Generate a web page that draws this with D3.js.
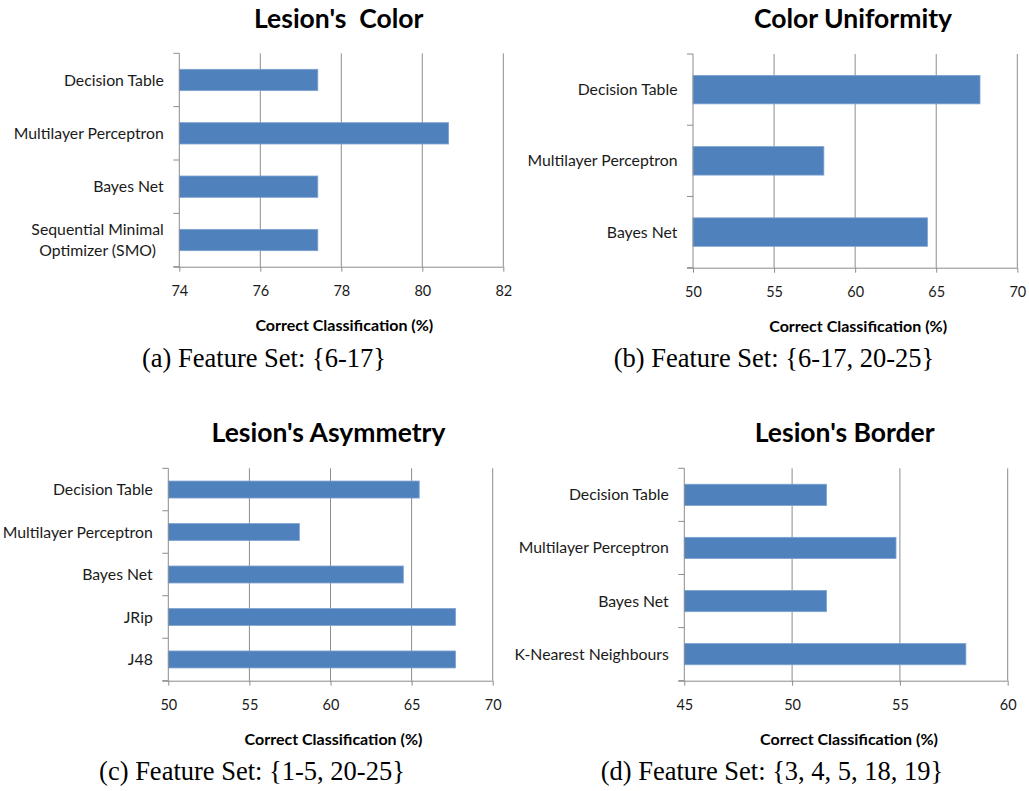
<!DOCTYPE html>
<html><head><meta charset="utf-8">
<script src="https://cdn.jsdelivr.net/npm/d3@7"></script>
<style>body{margin:0;background:#fff;overflow:hidden} svg{display:block}</style>
</head><body>
<svg id="c" width="1029" height="791"></svg>
<script>
// ---- data ----
const catsA = ["Decision Table", "Multilayer Perceptron", "Bayes Net", "Sequential Minimal\nOptimizer (SMO)"];
const valsA = [77.42, 80.65, 77.42, 77.42];
const ticksA = [74, 76, 78, 80, 82];

const catsB = ["Decision Table", "Multilayer Perceptron", "Bayes Net"];
const valsB = [67.7, 58.07, 64.46];
const ticksB = [50, 55, 60, 65, 70];

const catsC = ["Decision Table", "Multilayer Perceptron", "Bayes Net", "JRip", "J48"];
const valsC = [65.47, 58.08, 64.49, 67.71, 67.71];
const ticksC = [50, 55, 60, 65, 70];

const catsD = ["Decision Table", "Multilayer Perceptron", "Bayes Net", "K-Nearest Neighbours"];
const valsD = [51.6, 54.82, 51.6, 58.06];
const ticksD = [45, 50, 55, 60];

const titles = ["Lesion's  Color", "Color Uniformity", "Lesion's Asymmetry", "Lesion's Border"];
const captions = ["(a) Feature Set: {6-17}", "(b) Feature Set: {6-17, 20-25}", "(c) Feature Set: {1-5, 20-25}", "(d) Feature Set: {3, 4, 5, 18, 19}"];
const axisTitle = "Correct Classification (%)";

// ---- layout ----
const panels = [
  {cats: catsA, vals: valsA, ticks: ticksA, x0: 179.3, x1: 503.3, y0: 53.3, y1: 266.7, tx: 338.7, ty: 28, cx: 264, cy: 367},
  {cats: catsB, vals: valsB, ticks: ticksB, x0: 693, x1: 1017.3, y0: 54, y1: 267.7, tx: 853, ty: 28, cx: 774, cy: 367},
  {cats: catsC, vals: valsC, ticks: ticksC, x0: 168.3, x1: 492.7, y0: 468.3, y1: 680.7, tx: 328.5, ty: 441.5, cx: 252, cy: 780},
  {cats: catsD, vals: valsD, ticks: ticksD, x0: 684.3, x1: 1007.7, y0: 468.3, y1: 680.7, tx: 844.7, ty: 441.5, cx: 772, cy: 780}
];

const svg = d3.select("#c");
const labelFont = "Lato, 'Open Sans', sans-serif";
const gridCol = "#8c8c8c";
const textCol = "#1a1a1a";

panels.forEach((p, i) => {
  const g = svg.append("g");
  const x = d3.scaleLinear().domain([p.ticks[0], p.ticks[p.ticks.length - 1]]).range([p.x0, p.x1]);
  const y = d3.scaleBand().domain(p.cats).range([p.y0, p.y1]).paddingInner(0.6).paddingOuter(0.3);

  // gridlines
  g.selectAll("line.grid").data(p.ticks.slice(1)).enter().append("line")
    .attr("x1", d => x(d)).attr("x2", d => x(d))
    .attr("y1", p.y0).attr("y2", p.y1)
    .attr("stroke", gridCol).attr("stroke-width", 1);

  // bars
  g.selectAll("rect.bar").data(p.cats).enter().append("rect")
    .attr("x", x(p.ticks[0]))
    .attr("y", d => y(d))
    .attr("width", (d, j) => x(p.vals[j]) - x(p.ticks[0]))
    .attr("height", y.bandwidth())
    .attr("fill", "#4f81bd").attr("stroke", "#7fa3d0").attr("stroke-width", 0.8);

  // x axis (bottom)
  const xAxis = d3.axisBottom(x).tickValues(p.ticks).tickSize(5).tickSizeOuter(0).tickPadding(14);
  const xa = g.append("g").attr("transform", `translate(0,${p.y1})`).call(xAxis);
  xa.select(".domain").attr("stroke", gridCol).attr("d", `M${p.x0 - 6},0.5H${p.x1}`);
  xa.selectAll(".tick line").attr("stroke", gridCol);
  xa.selectAll(".tick text").attr("font-family", labelFont).attr("font-size", 14.5).attr("fill", textCol);

  // y axis (left) with ticks between categories
  const boundaries = d3.range(p.cats.length + 1).map(k => p.y0 + k * (p.y1 - p.y0) / p.cats.length);
  g.append("line").attr("x1", p.x0).attr("x2", p.x0).attr("y1", p.y0).attr("y2", p.y1)
    .attr("stroke", gridCol);
  g.selectAll("line.yt").data(boundaries).enter().append("line")
    .attr("x1", p.x0 - 6).attr("x2", p.x0).attr("y1", d => d).attr("y2", d => d)
    .attr("stroke", gridCol);

  // category labels
  p.cats.forEach(c => {
    const lines = c.split("\n");
    const cyc = y(c) + y.bandwidth() / 2;
    const right = p.x0 - 15.5;
    if (lines.length === 1) {
      g.append("text").attr("x", right).attr("y", cyc).attr("dy", "0.35em")
        .attr("text-anchor", "end").attr("font-family", labelFont).attr("font-size", 15.8)
        .attr("fill", textCol).text(c);
    } else {
      const t = g.append("text").attr("text-anchor", "middle").attr("font-family", labelFont)
        .attr("font-size", 15.8).attr("fill", textCol);
      const spans = lines.map((l, k) => t.append("tspan").attr("y", cyc + (k - (lines.length - 1) / 2) * 21.7).attr("dy", "0.35em").text(l));
      const w = d3.max(spans, s => s.node().getComputedTextLength());
      spans.forEach(s => s.attr("x", right - w / 2));
    }
  });

  // axis title
  g.append("text").attr("x", (p.x0 + p.x1) / 2 + 3).attr("y", p.y1 + 64)
    .attr("text-anchor", "middle").attr("font-family", labelFont).attr("font-weight", "bold")
    .attr("font-size", 16).attr("fill", "#000").text(axisTitle);

  // chart title
  g.append("text").attr("x", p.tx).attr("y", p.ty).attr("text-anchor", "middle")
    .attr("font-family", labelFont).attr("font-weight", "bold").attr("font-size", 26.5)
    .attr("fill", "#000").style("white-space", "pre").text(titles[i]);

  // caption
  g.append("text").attr("x", p.cx).attr("y", p.cy).attr("text-anchor", "middle")
    .attr("font-family", "'Liberation Serif', 'DejaVu Serif', serif").attr("font-size", 26.5)
    .attr("fill", "#000").style("white-space", "pre").text(captions[i]);
});
</script>
</body></html>
